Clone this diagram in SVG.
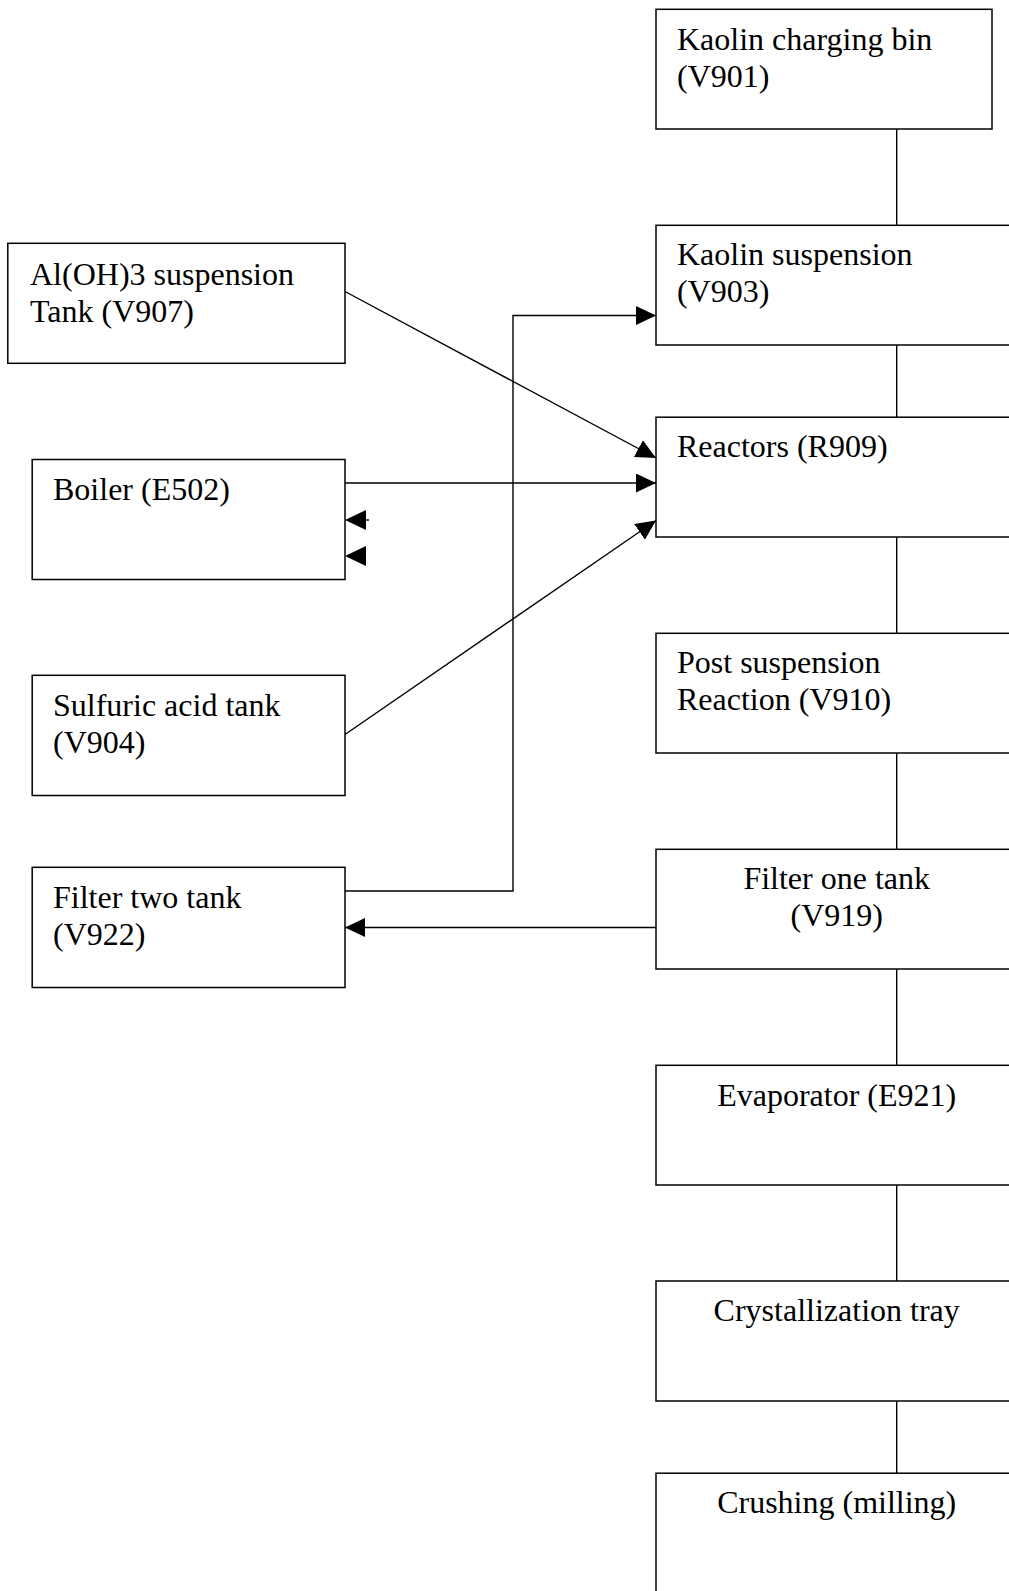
<svg xmlns="http://www.w3.org/2000/svg" width="1009" height="1591" viewBox="0 0 1009 1591">
  <style>
    .box { fill: #ffffff; stroke: #000000; stroke-width: 1.5; }
    .lbl { font-family: "Liberation Serif", "Times New Roman", serif; font-size: 32px; fill: #000000; }
    .mid { text-anchor: middle; }
    .wire { fill: none; stroke: #000000; stroke-width: 1.4; }
    .head { fill: #000000; }
  </style>
  <defs>
    <marker id="arrow" markerUnits="userSpaceOnUse" markerWidth="20" markerHeight="19" refX="20" refY="9.5" orient="auto">
      <path d="M0,0 L20,9.5 L0,19 Z" fill="#000000"/>
    </marker>
  </defs>

  <rect width="1009" height="1591" fill="#ffffff"/>

  <!-- connectors -->
  <g id="connectors">
    <!-- main process line -->
    <line class="wire" x1="896.7" y1="129" x2="896.7" y2="225.3"/>
    <line class="wire" x1="896.7" y1="345" x2="896.7" y2="417.2"/>
    <line class="wire" x1="896.7" y1="537" x2="896.7" y2="633.3"/>
    <line class="wire" x1="896.7" y1="753" x2="896.7" y2="849.3"/>
    <line class="wire" x1="896.7" y1="969" x2="896.7" y2="1065.3"/>
    <line class="wire" x1="896.7" y1="1185" x2="896.7" y2="1281"/>
    <line class="wire" x1="896.7" y1="1401" x2="896.7" y2="1473.2"/>
    <!-- feeds into the reactors -->
    <line class="wire" x1="345" y1="291.5" x2="656" y2="458" marker-end="url(#arrow)"/>
    <line class="wire" x1="345" y1="483" x2="656" y2="483" marker-end="url(#arrow)"/>
    <line class="wire" x1="345" y1="734.5" x2="656" y2="520.5" marker-end="url(#arrow)"/>
    <!-- filter two recycle to kaolin suspension -->
    <polyline class="wire" points="345,891 513,891 513,315.5 656,315.5" marker-end="url(#arrow)"/>
    <!-- filter one to filter two -->
    <line class="wire" x1="656" y1="927.5" x2="345" y2="927.5" marker-end="url(#arrow)"/>
    <!-- loose arrowheads at the boiler outlet -->
    <line class="wire" x1="358" y1="520" x2="369" y2="520"/>
    <path class="head" d="M345,520 L366,510 L366,530 Z"/>
    <path class="head" d="M345,556 L366,546 L366,566 Z"/>
  </g>

  <!-- right-hand process chain -->
  <g id="v901">
    <rect class="box" x="656" y="9.3" width="336" height="119.7"/>
    <text class="lbl" x="677" y="49.5">Kaolin charging bin</text>
    <text class="lbl" x="677" y="86.5">(V901)</text>
  </g>
  <g id="v903">
    <rect class="box" x="656" y="225.3" width="362" height="119.7"/>
    <text class="lbl" x="677" y="265">Kaolin suspension</text>
    <text class="lbl" x="677" y="302">(V903)</text>
  </g>
  <g id="r909">
    <rect class="box" x="656" y="417.2" width="362" height="119.8"/>
    <text class="lbl" x="677" y="457.3">Reactors (R909)</text>
  </g>
  <g id="v910">
    <rect class="box" x="656" y="633.3" width="362" height="119.7"/>
    <text class="lbl" x="677" y="673.3">Post suspension</text>
    <text class="lbl" x="677" y="710">Reaction (V910)</text>
  </g>
  <g id="v919">
    <rect class="box" x="656" y="849.3" width="362" height="119.7"/>
    <text class="lbl mid" x="836.7" y="889.3">Filter one tank</text>
    <text class="lbl mid" x="836.7" y="926">(V919)</text>
  </g>
  <g id="e921">
    <rect class="box" x="656" y="1065.3" width="362" height="119.7"/>
    <text class="lbl mid" x="836.7" y="1106">Evaporator (E921)</text>
  </g>
  <g id="tray">
    <rect class="box" x="656" y="1281" width="362" height="120"/>
    <text class="lbl mid" x="836.7" y="1321">Crystallization tray</text>
  </g>
  <g id="mill">
    <rect class="box" x="656" y="1473.2" width="362" height="140"/>
    <text class="lbl mid" x="836.7" y="1513">Crushing (milling)</text>
  </g>

  <!-- left-hand feed units -->
  <g id="v907">
    <rect class="box" x="7.8" y="243.3" width="337.2" height="120"/>
    <text class="lbl" x="30" y="285">Al(OH)3 suspension</text>
    <text class="lbl" x="30" y="321.5">Tank (V907)</text>
  </g>
  <g id="e502">
    <rect class="box" x="32.2" y="459.5" width="312.8" height="120"/>
    <text class="lbl" x="53" y="500">Boiler (E502)</text>
  </g>
  <g id="v904">
    <rect class="box" x="32.2" y="675.3" width="312.8" height="120.2"/>
    <text class="lbl" x="53" y="715.5">Sulfuric acid tank</text>
    <text class="lbl" x="53" y="752.5">(V904)</text>
  </g>
  <g id="v922">
    <rect class="box" x="32.2" y="867.3" width="312.8" height="120.2"/>
    <text class="lbl" x="53" y="907.5">Filter two tank</text>
    <text class="lbl" x="53" y="944.5">(V922)</text>
  </g>
</svg>
